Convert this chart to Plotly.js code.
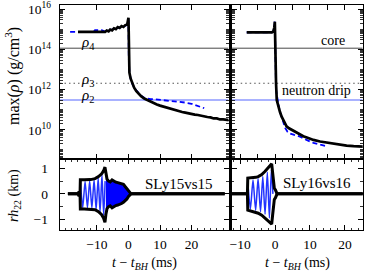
<!DOCTYPE html>
<html><head><meta charset="utf-8">
<script src="https://cdn.plot.ly/plotly-3.0.1.min.js"></script>
<style>html,body{margin:0;padding:0;background:#fff}#c{width:374px;height:280px}</style>
</head><body><div id="c"></div>
<script>
// ---------- data: max density (g/cm^3) vs t - t_BH (ms) ----------
const tBlackL = [-16, -7.4, -6.9, -6.3, -5.8, -5.2, -4.6, -4.0, -3.4, -2.8, -2.2, -1.6, -1.0, -0.4, 0.0, 0.1, 0.3, 0.7, 1.2, 1.8, 2.5, 3.2, 4.0, 5.0, 6.0, 7.0, 8.0, 9.0, 10.0, 11.0, 12.0, 13.0, 14.0, 15.0, 16.0, 17.0, 18.0, 19.0, 20.0, 21.0, 22.0, 23.0, 24.0, 25.0, 26.0, 27.0, 28.0, 29.0, 30.0, 31.0, 32.0];
const rhoBlackL = [7.59e14, 7.59e14, 8.91e14, 8.13e14, 1.0e15, 9.12e14, 1.15e15, 1.05e15, 1.32e15, 1.20e15, 1.48e15, 1.35e15, 1.66e15, 1.78e15, 3.80e15, 3.98e13, 7.08e12, 3.55e12, 2.0e12, 1.26e12, 8.51e11, 6.31e11, 4.79e11, 3.63e11, 3.02e11, 2.45e11, 2.19e11, 1.86e11, 1.62e11, 1.45e11, 1.29e11, 1.15e11, 1.05e11, 9.33e10, 8.71e10, 7.76e10, 7.24e10, 6.61e10, 6.31e10, 5.75e10, 5.50e10, 5.01e10, 4.79e10, 4.37e10, 4.17e10, 3.72e10, 3.72e10, 3.31e10, 3.31e10, 3.09e10, 3.02e10];
const tBlueL = [-18.5, -11.0, -10.6, -9.5, -8.5, -7.4, -6.0, -4.0, -2.0, -0.5, 0.0, 0.1, 0.3, 0.7, 1.2, 2.0, 3.0, 4.0, 5.0, 6.0, 7.0, 8.0, 10.0, 12.0, 14.0, 16.0, 18.0, 20.0, 22.0, 24.0];
const rhoBlueL = [7.59e14, 7.59e14, 9.33e14, 9.33e14, 9.33e14, 7.94e14, 8.91e14, 1.07e15, 1.35e15, 1.66e15, 3.16e15, 3.98e13, 7.08e12, 3.55e12, 2.0e12, 1.12e12, 7.08e11, 5.01e11, 3.98e11, 3.55e11, 3.39e11, 3.39e11, 3.16e11, 3.09e11, 2.82e11, 2.63e11, 2.29e11, 2.0e11, 1.58e11, 1.20e11];
const tBlackR = [-8.1, -0.9, -0.5, -0.2, -0.05, 0.1, 0.3, 0.5, 0.95, 1.4, 1.9, 2.6, 3.3, 4.0, 4.8, 5.7, 7.0, 8.1, 9.5, 11.0, 12.9, 15.0, 17.0, 18.6, 20.5, 22.5, 24.3, 25.5];
const rhoBlackR = [7.24e14, 7.24e14, 7.94e14, 1.26e15, 2.45e15, 3.16e13, 2.0e12, 3.09e11, 1.45e11, 7.94e10, 4.57e10, 2.51e10, 1.51e10, 1.20e10, 1.0e10, 7.94e9, 6.03e9, 4.79e9, 3.98e9, 3.16e9, 2.63e9, 2.29e9, 2.0e9, 1.78e9, 1.66e9, 1.55e9, 1.48e9, 1.45e9];
const tBlueR = [-8.1, -0.9, -0.5, -0.2, -0.05, 0.1, 0.3, 0.9, 1.4, 2.0, 2.9, 3.6, 4.3, 5.5, 7.1, 9.0, 11.0, 13.0, 15.0];
const rhoBlueR = [7.24e14, 7.24e14, 7.94e14, 1.26e15, 2.45e15, 3.16e13, 1.0e12, 2.19e11, 7.94e10, 3.98e10, 1.26e10, 7.94e9, 6.61e9, 5.62e9, 4.68e9, 3.16e9, 2.24e9, 1.82e9, 1.51e9];

// reference densities: core, neutron drip, rho2
const rhoCore = 1.17e14;
const rhoDrip = 2.1e12;
const rho2 = 3.1e11;

// ---------- data: r h22 (km) ----------
const envTL = [-19.2, -16.0, -15.8, -15.6, -15.35, -15.25, -14.0, -12.0, -10.6, -9.5, -8.5, -7.9, -7.45, -7.15, -6.8, -6.3, -5.8, -5.2, -4.6, -4.0, -3.4, -2.8, -2.2, -1.6, -1.0, -0.5, 0.0, 0.4, 0.8, 30.5];
const envUpL = [0, 0, 0.05, 0.05, 0, 0.55, 0.55, 0.56, 0.6, 0.68, 0.79, 0.9, 1.05, 0.75, 0.58, 0.5, 0.47, 0.55, 0.5, 0.46, 0.44, 0.42, 0.4, 0.38, 0.28, 0.2, 0.1, 0.03, 0, 0];
const envLoL = [0, 0, -0.05, -0.05, 0, -0.59, -0.59, -0.6, -0.62, -0.7, -0.82, -0.95, -1.12, -0.8, -0.58, -0.5, -0.47, -0.55, -0.5, -0.46, -0.44, -0.42, -0.38, -0.33, -0.26, -0.2, -0.1, -0.03, 0, 0];
const waveTL = [-15.25, -14.5, -13.75, -13.0, -12.3, -11.6, -10.9, -10.25, -9.6, -9.0, -8.4, -7.85, -7.4];
const waveHL = [0.5, -0.55, 0.5, -0.55, 0.52, -0.56, 0.55, -0.62, 0.62, -0.72, 0.75, -0.85, 0.5];

const envTR = [-12.5, -7.9, -7.8, -6.5, -5.5, -4.8, -3.8, -2.9, -2.0, -1.3, -0.95, -0.7, -0.45, -0.2, 0.1, 0.35, 0.6, 25.5];
const envUpR = [0, 0, 0.62, 0.63, 0.65, 0.68, 0.76, 0.88, 1.0, 1.12, 1.18, 0.85, 0.45, 0.22, 0.16, 0.08, 0, 0];
const envLoR = [0, 0, -0.64, -0.68, -0.72, -0.76, -0.84, -0.94, -1.06, -1.15, -1.19, -0.85, -0.45, -0.22, -0.16, -0.08, 0, 0];
const waveTR = [-7.8, -7.05, -6.3, -5.55, -4.85, -4.15, -3.5, -2.85, -2.2, -1.6, -1.05, -0.6];
const waveHR = [0.5, -0.6, 0.55, -0.65, 0.6, -0.7, 0.68, -0.8, 0.85, -0.95, 0.95, 0];

// post-merger window (filled) for left run
const postMergerL = [-7.2, 0.8];

// ---------- ticks / labels ----------
const xTickVals = [-10, 0, 10, 20];
const xTickText = ['\u221210', '0', '10', '20'];
const xTickValsTopR = [-10, -5, 0, 5, 10, 15, 20];
const hTickVals = [-1, 0, 1];
const hTickText = ['\u22121', '0', '1'];
const rhoTickVals = [1e10, 1e12, 1e14, 1e16];
const rhoTickText = ['10<sup>10</sup>', '10<sup>12</sup>', '10<sup>14</sup>', '10<sup>16</sup>'];
const rhoDecades = [8, 9, 10, 11, 12, 13, 14, 15, 16];
const rhoMinorSubs = [1, 2, 3, 4, 5, 6, 7, 8, 9];
const xRangeL = [-21.7, 31.7];
const xRangeR = [-12.4, 25.1];

// minor log ticks (every 1..9 x 10^k that is not a labelled major)
const rhoMinor = [];
rhoDecades.forEach(d => rhoMinorSubs.forEach(s => {
  const v = s * Math.pow(10, d);
  if (!rhoTickVals.includes(v)) rhoMinor.push(v);
}));

// ---------- traces ----------
const BLUE = '#0000ff';
const traces = [];
function lvl(xa, ya, xr, v, color, dash, w) {
  traces.push({x: xr, y: [v, v], xaxis: xa, yaxis: ya, mode: 'lines', line: {color: color, width: w, dash: dash}, hoverinfo: 'skip'});
}
[['x3', 'y3', xRangeL], ['x4', 'y4', xRangeR]].forEach(([xa, ya, xr]) => {
  lvl(xa, ya, xr, rhoCore, '#333333', 'solid', 0.9);
  lvl(xa, ya, xr, rhoDrip, '#555555', '1.5px,3px', 1.2);
  lvl(xa, ya, xr, rho2, '#5566ff', 'solid', 1.1);
});
traces.push({x: tBlueL, y: rhoBlueL, xaxis: 'x3', yaxis: 'y3', mode: 'lines', line: {color: BLUE, width: 1.8, dash: '5px,3px'}});
traces.push({x: tBlackL, y: rhoBlackL, xaxis: 'x3', yaxis: 'y3', mode: 'lines', line: {color: '#000', width: 2.7}});
traces.push({x: tBlueR, y: rhoBlueR, xaxis: 'x4', yaxis: 'y4', mode: 'lines', line: {color: BLUE, width: 1.8, dash: '5px,3px'}});
traces.push({x: tBlackR, y: rhoBlackR, xaxis: 'x4', yaxis: 'y4', mode: 'lines', line: {color: '#000', width: 2.7}});

// post-merger blue fill (left)
const pmIdx = envTL.map((t, i) => i).filter(i => envTL[i] >= postMergerL[0] && envTL[i] <= postMergerL[1]);
traces.push({x: pmIdx.map(i => envTL[i]), y: pmIdx.map(i => envLoL[i]), xaxis: 'x', yaxis: 'y', mode: 'lines', line: {color: BLUE, width: 0}});
traces.push({x: pmIdx.map(i => envTL[i]), y: pmIdx.map(i => envUpL[i]), xaxis: 'x', yaxis: 'y', mode: 'lines', fill: 'tonexty', fillcolor: BLUE, line: {color: BLUE, width: 0}});
// inspiral oscillations
traces.push({x: waveTL, y: waveHL, xaxis: 'x', yaxis: 'y', mode: 'lines', line: {color: '#2233ff', width: 1.5, shape: 'spline', smoothing: 0.6}});
traces.push({x: waveTR, y: waveHR, xaxis: 'x2', yaxis: 'y2', mode: 'lines', line: {color: '#2233ff', width: 1.5, shape: 'spline', smoothing: 0.6}});
// envelopes
[[envTL, envUpL, 'x', 'y'], [envTL, envLoL, 'x', 'y'], [envTR, envUpR, 'x2', 'y2'], [envTR, envLoR, 'x2', 'y2']].forEach(([tx, hy, xa, ya]) => {
  traces.push({x: tx, y: hy, xaxis: xa, yaxis: ya, mode: 'lines', line: {color: '#000', width: 3}});
});

// ---------- layout ----------
const W = 374, H = 280;
const FONT = 'Liberation Serif, Times New Roman, serif';
const dxL = [60 / W, 228.5 / W], dxR = [231.7 / W, 362.7 / W];
const dyTop = [121 / H, 275 / H], dyBot = [50 / H, 121 / H];
const base = {showline: true, linecolor: '#000', linewidth: 1.4, mirror: 'allticks', ticks: 'inside', ticklen: 5, tickwidth: 1, tickcolor: '#000', showgrid: false, zeroline: false, tickfont: {family: FONT, size: 13.5, color: '#000'}, automargin: false};
const minorX = {ticks: 'inside', ticklen: 2.5, tickwidth: 0.8, tickcolor: '#000', dtick: 2, tick0: 0, showgrid: false};
const minorLog = {ticks: 'inside', ticklen: 3, tickwidth: 0.8, tickcolor: '#000', tickmode: 'array', tickvals: rhoMinor, showgrid: false};
function ann(o) { return Object.assign({showarrow: false, xanchor: 'center', yanchor: 'middle'}, o); }
const layout = {
  width: W, height: H, margin: {l: 0, r: 0, t: 0, b: 0}, showlegend: false,
  paper_bgcolor: '#fff', plot_bgcolor: '#fff', font: {family: FONT, color: '#000'},
  xaxis: Object.assign({}, base, {domain: dxL, anchor: 'y', range: xRangeL, tickmode: 'array', tickvals: xTickVals, ticktext: xTickText, minor: minorX, ticklabelstandoff: 1}),
  yaxis: Object.assign({}, base, {domain: dyBot, anchor: 'x', range: [-1.42, 1.37], tickmode: 'array', tickvals: hTickVals, ticktext: hTickText, minor: Object.assign({}, minorX, {dtick: 0.5}), ticklabelstandoff: 8}),
  xaxis2: Object.assign({}, base, {domain: dxR, anchor: 'y2', range: xRangeR, tickmode: 'array', tickvals: xTickVals, ticktext: xTickText, minor: minorX, ticklabelstandoff: 1}),
  yaxis2: Object.assign({}, base, {domain: dyBot, anchor: 'x2', range: [-1.42, 1.37], tickmode: 'array', tickvals: hTickVals, showticklabels: false, minor: Object.assign({}, minorX, {dtick: 0.5})}),
  xaxis3: Object.assign({}, base, {domain: dxL, anchor: 'y3', range: xRangeL, tickmode: 'array', tickvals: xTickVals, showticklabels: false}),
  yaxis3: Object.assign({}, base, {domain: dyTop, anchor: 'x3', type: 'log', range: [8.55, 16.22], tickmode: 'array', tickvals: rhoTickVals, ticktext: rhoTickText, minor: minorLog, ticklabelstandoff: 5}),
  xaxis4: Object.assign({}, base, {domain: dxR, anchor: 'y4', range: xRangeR, tickmode: 'array', tickvals: xTickValsTopR, showticklabels: false}),
  yaxis4: Object.assign({}, base, {domain: dyTop, anchor: 'x4', type: 'log', range: [8.55, 16.22], tickmode: 'array', tickvals: rhoTickVals, showticklabels: false, minor: minorLog}),
  annotations: [
    ann({xref: 'x3', yref: 'y3', x: -12.9, y: 14.33, text: '<i>ρ</i><sub>4</sub>', font: {size: 15}}),
    ann({xref: 'x3', yref: 'y3', x: -12.9, y: 12.49, text: '<i>ρ</i><sub>3</sub>', font: {size: 15}}),
    ann({xref: 'x3', yref: 'y3', x: -12.9, y: 11.68, text: '<i>ρ</i><sub>2</sub>', font: {size: 15}}),
    ann({xref: 'x4', yref: 'y4', x: 20.6, y: 14.46, text: 'core', xanchor: 'right', font: {size: 14}}),
    ann({xref: 'x4', yref: 'y4', x: 22.4, y: 11.96, text: 'neutron drip', xanchor: 'right', font: {size: 14}}),
    ann({xref: 'x', yref: 'y', x: 16.1, y: 0.38, text: 'SLy15vs15', font: {size: 15}}),
    ann({xref: 'x2', yref: 'y2', x: 12.0, y: 0.43, text: 'SLy16vs16', font: {size: 15}}),
    ann({xref: 'paper', yref: 'paper', x: 12.5 / W, y: 1 - 76.5 / H, text: 'max(<i>ρ</i>) (g/cm<sup>3</sup>)', textangle: -90, font: {size: 16}}),
    ann({xref: 'paper', yref: 'paper', x: 14 / W, y: 1 - 195 / H, text: '<i>rh</i><sub>22</sub> (km)', textangle: -90, font: {size: 14}}),
    ann({xref: 'paper', yref: 'paper', x: 144 / W, y: 1 - 263 / H, text: '<i>t</i> \u2212 <i>t</i><sub><i>BH</i></sub> (ms)', font: {size: 14}}),
    ann({xref: 'paper', yref: 'paper', x: 297 / W, y: 1 - 263 / H, text: '<i>t</i> \u2212 <i>t</i><sub><i>BH</i></sub> (ms)', font: {size: 14}})
  ]
};
Plotly.newPlot('c', traces, layout, {staticPlot: true, displayModeBar: false});
</script></body></html>
